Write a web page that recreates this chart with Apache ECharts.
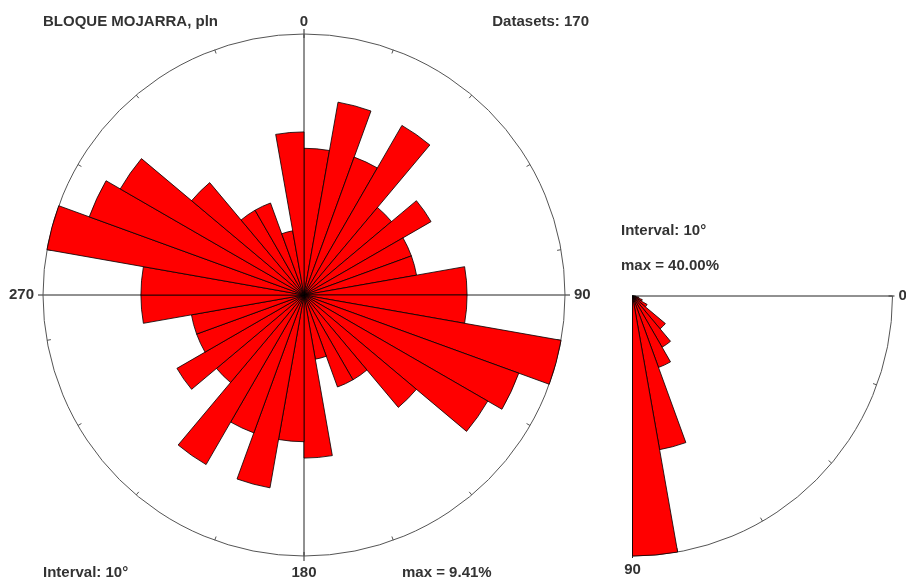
<!DOCTYPE html>
<html>
<head>
<meta charset="utf-8">
<script src="https://cdn.jsdelivr.net/npm/echarts@6/dist/echarts.min.js"></script>
<style>
html,body{margin:0;padding:0;background:#fff;}
#c{width:906px;height:580px;}
</style>
</head>
<body>
<div id="c"></div>
<script>
// ---- data (percent of 170 datasets, 10° classes) ----
const strikeBins = ['0-10','10-20','20-30','30-40','40-50','50-60','60-70','70-80','80-90',
  '90-100','100-110','110-120','120-130','130-140','140-150','150-160','160-170','170-180',
  '180-190','190-200','200-210','210-220','220-230','230-240','240-250','250-260','260-270',
  '270-280','280-290','290-300','300-310','310-320','320-330','330-340','340-350','350-360'];
const strikePct = [5.29, 7.06, 5.29, 7.06, 4.12, 5.29, 4.12, 4.12, 5.88,
  5.88, 9.41, 8.24, 7.65, 5.29, 3.53, 3.53, 2.35, 5.88,
  5.29, 7.06, 5.29, 7.06, 4.12, 5.29, 4.12, 4.12, 5.88,
  5.88, 9.41, 8.24, 7.65, 5.29, 3.53, 3.53, 2.35, 5.88];
const dipBins = ['0-10','10-20','20-30','30-40','40-50','50-60','60-70','70-80','80-90'];
const dipPct = [0.5, 1.0, 1.6, 2.6, 6.6, 9.1, 11.7, 24.0, 40.0];
const compassTicks = ['0', '90', '180', '270'];
const dipTicks = ['0', '90'];
const strikeMax = 9.41;
const dipMax = 40.0;
const datasets = 170;
const intervalDeg = 10;
const fileName = 'BLOQUE MOJARRA, pln';

// ---- layout / style ----
const FONT = '"Liberation Sans", Arial, sans-serif';
const TXT = '#333';
const LINE = '#555';
const C1 = [304, 295], R1 = 261;
const C2 = [632.5, 296], R2 = 260;
const barStyle = {color: '#ff0000', borderColor: '#000', borderWidth: 0.8};
const lbl = {show: true, fontSize: 15, fontWeight: 'bold', color: TXT, fontFamily: FONT};

const chart = echarts.init(document.getElementById('c'), null, {renderer: 'canvas'});
const txt = (text, x, y, align) => ({
  type: 'text', silent: true,
  style: {text, x, y, fill: TXT, font: 'bold 15px ' + FONT, align: align || 'left', verticalAlign: 'middle'}
});

chart.setOption({
  animation: false,
  backgroundColor: '#fff',
  polar: [
    {center: C1, radius: R1},
    {center: C1, radius: R1 + 5},
    {center: C2, radius: R2},
    {center: C2, radius: R2 + 2}
  ],
  angleAxis: [
    {polarIndex: 0, type: 'category', data: strikeBins, startAngle: 90, clockwise: true, boundaryGap: true,
     axisLine: {show: true, lineStyle: {color: LINE, width: 1}},
     axisTick: {show: true, inside: true, length: 4, lineStyle: {color: LINE, width: 1}},
     axisLabel: {show: false}, splitLine: {show: false}, splitArea: {show: false}},
    {polarIndex: 1, type: 'value', min: 0, max: 360, interval: 90, startAngle: 90, clockwise: true,
     axisLine: {show: false}, axisTick: {show: false},
     axisLabel: Object.assign({}, lbl, {
       margin: 4,
       formatter: v => v === 0 ? '{top|' + compassTicks[0] + '}' : (compassTicks[v / 90] || ''),
       rich: {top: {fontSize: 15, fontWeight: 'bold', color: TXT, fontFamily: FONT, lineHeight: 6}}
     }),
     splitLine: {show: true, lineStyle: {color: '#222', width: 1}}, splitArea: {show: false}},
    {polarIndex: 2, type: 'category', data: dipBins, startAngle: 0, endAngle: -90, clockwise: true, boundaryGap: true,
     axisLine: {show: true, lineStyle: {color: LINE, width: 1}},
     axisTick: {show: true, inside: true, length: 4, lineStyle: {color: LINE, width: 1}},
     axisLabel: {show: false}, splitLine: {show: false}, splitArea: {show: false}},
    {polarIndex: 3, type: 'value', min: 0, max: 90, interval: 90, startAngle: 0, endAngle: -90, clockwise: true,
     axisLine: {show: false}, axisTick: {show: false},
     axisLabel: Object.assign({}, lbl, {margin: 4, formatter: v => dipTicks[v / 90] || ''}),
     splitLine: {show: true, lineStyle: {color: '#222', width: 1}}, splitArea: {show: false}}
  ],
  radiusAxis: [
    {polarIndex: 0, type: 'value', min: 0, max: strikeMax, show: false},
    {polarIndex: 1, type: 'value', min: 0, max: 1, show: false},
    {polarIndex: 2, type: 'value', min: 0, max: dipMax, show: false},
    {polarIndex: 3, type: 'value', min: 0, max: 1, show: false}
  ],
  series: [
    {type: 'bar', coordinateSystem: 'polar', polarIndex: 0, data: strikePct,
     barCategoryGap: '0%', itemStyle: barStyle, silent: true},
    {type: 'bar', coordinateSystem: 'polar', polarIndex: 2, data: dipPct,
     barCategoryGap: '0%', itemStyle: barStyle, silent: true}
  ],
  graphic: [
    txt(fileName, 43, 22),
    txt('Datasets: ' + datasets, 589, 22, 'right'),
    txt('Interval: ' + intervalDeg + '°', 43, 573),
    txt('max = ' + strikeMax.toFixed(2) + '%', 402, 573),
    txt('Interval: ' + intervalDeg + '°', 621, 231),
    txt('max = ' + dipMax.toFixed(2) + '%', 621, 266)
  ]
});
</script>
</body>
</html>
